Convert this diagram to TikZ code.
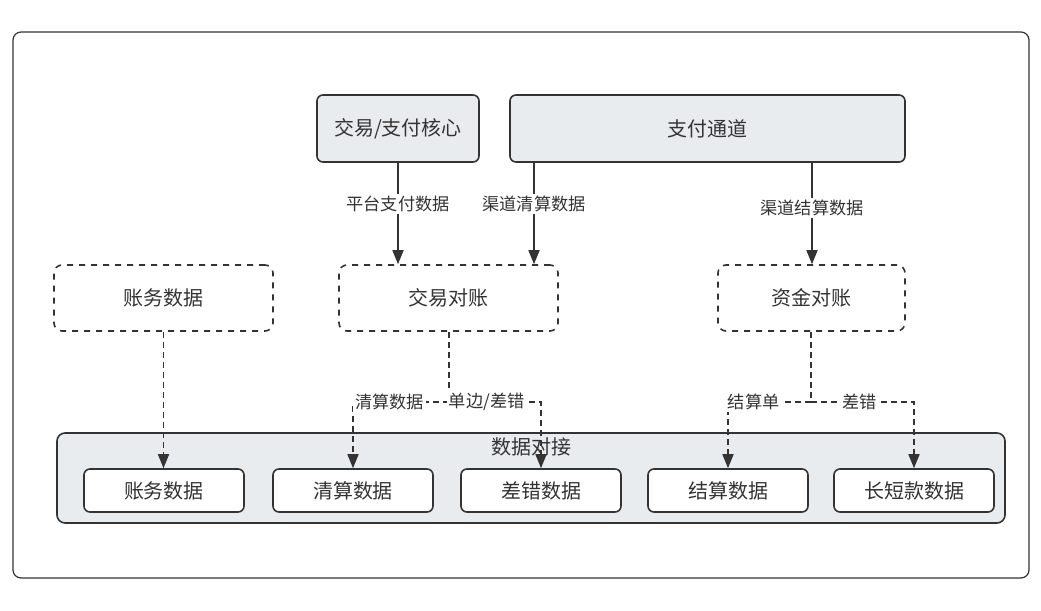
\documentclass[tikz,border=0pt]{standalone}
\usepackage{fontspec}
\setmainfont{Noto Sans CJK SC}
\usetikzlibrary{arrows.meta}

\definecolor{boxfill}{HTML}{E9ECEF}
\definecolor{linegray}{HTML}{333333}

\begin{document}
\begin{tikzpicture}[
    x=0.5pt, y=-0.5pt,
    >={Triangle[length=7pt,width=5.5pt]}, % Set default arrow tip style
    every node/.style={font=\fontsize{10}{12}\selectfont, text=linegray},
    srcbox/.style={draw=linegray, fill=boxfill, rounded corners=3pt, thick, minimum height=33.5pt}, % Style for source systems
    checkbox/.style={draw=linegray, dashed, rounded corners=4pt, thick, minimum height=33pt}, % Style for reconciliation steps
    databox/.style={draw=linegray, fill=white, rounded corners=3pt, thick, minimum width=80pt, minimum height=21.5pt}, % Style for data items
    flowlabel/.style={fill=white, inner sep=1pt, font=\fontsize{8.6}{10}\selectfont}, % Style for connector labels
    flow/.style={->, linegray, thick},
    dflow/.style={->, linegray, thick, dashed, dash pattern=on 3pt off 2pt}
]

% Page size and outer frame
\useasboundingbox (0,0) rectangle (1041,611);
\draw[linegray, rounded corners=4pt, semithick] (13,32) rectangle (1029,578);

% Data interface container
\node[draw=linegray, fill=boxfill, rounded corners=4pt, thick, minimum width=474pt, minimum height=45pt] (dock) at (531,478) {};
\node (docklabel) at (531,447) {数据对接};

% Source systems
\node[srcbox, minimum width=81pt] (core) at (398,128.5) {交易/支付核心};
\node[srcbox, minimum width=197.5pt] (channel) at (707.5,128.5) {支付通道};

% Reconciliation steps
\node[checkbox, minimum width=109.5pt] (ledger) at (163.5,298) {账务数据};
\node[checkbox, minimum width=109.5pt] (txcheck) at (448.5,298) {交易对账};
\node[checkbox, minimum width=93.5pt] (fundcheck) at (811.5,298) {资金对账};

% Data items
\node[databox] (ledgerdata) at (164,490.5) {账务数据};
\node[databox] (cleardata) at (353,490.5) {清算数据};
\node[databox] (errdata) at (541,490.5) {差错数据};
\node[databox] (settledata) at (728,490.5) {结算数据};
\node[databox] (longshort) at (914,490.5) {长短款数据};

% Solid connectors with labels
\draw[flow] (core.south) -- node[flowlabel, pos=0.41] {平台支付数据} (core.south |- txcheck.north);
\coordinate (chanleft) at (534,162);
\draw[flow] (chanleft) -- node[flowlabel, pos=0.41] {渠道清算数据} (chanleft |- txcheck.north);
\coordinate (chanright) at (812,162);
\draw[flow] (chanright) -- node[flowlabel, pos=0.45] {渠道结算数据} (chanright |- fundcheck.north);

% Dashed connectors
\draw[dflow] (ledger.south) -- (ledgerdata.north -| ledger.south);

\coordinate (txsplit) at (449,402);
\draw[dflow] (txcheck.south -| txsplit) -- (txsplit) -- node[flowlabel, pos=0.62] {清算数据} (txsplit -| cleardata.north) -- (cleardata.north);
\draw[dflow] (txsplit) -- node[flowlabel, pos=0.41] {单边/差错} (txsplit -| errdata.north) -- (errdata.north);

\coordinate (fundsplit) at (811,402);
\draw[dflow] (fundcheck.south -| fundsplit) -- (fundsplit) -- node[flowlabel, pos=0.69] {结算单} (fundsplit -| settledata.north) -- (settledata.north);
\draw[dflow] (fundsplit) -- node[flowlabel, pos=0.47] {差错} (fundsplit -| longshort.north) -- (longshort.north);

\end{tikzpicture}
\end{document}
